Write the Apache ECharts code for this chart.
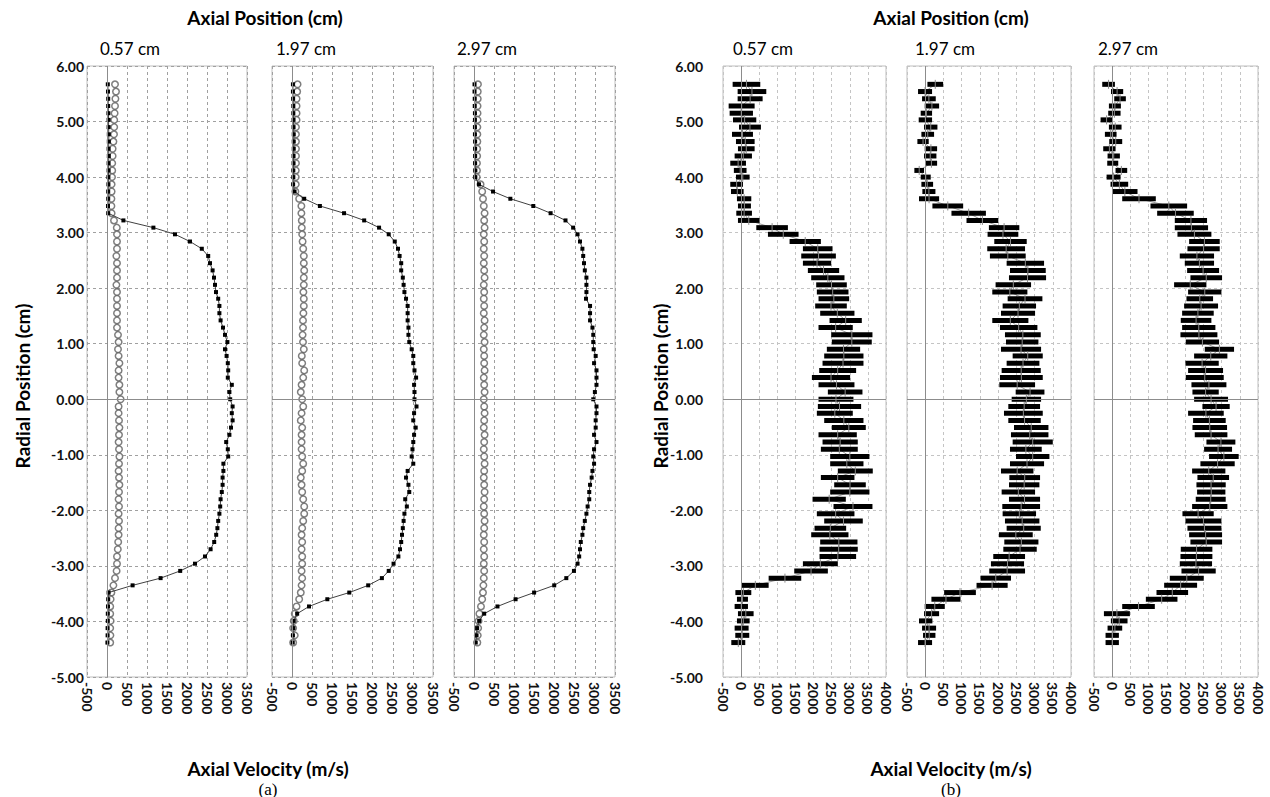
<!DOCTYPE html>
<html>
<head>
<meta charset="utf-8">
<script src="https://cdn.jsdelivr.net/npm/echarts@6/dist/echarts.min.js"></script>
<style>
html,body{margin:0;padding:0;background:#fff;}
#chart{width:1270px;height:797px;}
</style>
</head>
<body>
<div id="chart"></div>
<script>
// ---------------- DATA ----------------
const radialPositions = [5.67,5.54,5.41,5.28,5.15,5.03,4.90,4.77,4.64,4.51,4.38,4.25,4.12,4.00,3.87,3.74,3.61,3.48,3.35,3.22,3.09,2.97,2.84,2.71,2.58,2.45,2.32,2.19,2.06,1.93,1.81,1.68,1.55,1.42,1.29,1.16,1.03,0.90,0.78,0.65,0.52,0.39,0.26,0.13,0.00,-0.13,-0.25,-0.38,-0.51,-0.64,-0.77,-0.90,-1.03,-1.16,-1.29,-1.41,-1.54,-1.67,-1.80,-1.93,-2.06,-2.19,-2.32,-2.44,-2.57,-2.70,-2.83,-2.96,-3.09,-3.22,-3.35,-3.48,-3.60,-3.73,-3.86,-3.99,-4.12,-4.25,-4.38];

const axialLabels = ["0.57 cm","1.97 cm","2.97 cm"];
const velTicksA = [-500,0,500,1000,1500,2000,2500,3000,3500];
const velTicksB = [-500,0,500,1000,1500,2000,2500,3000,3500,4000];
const radialTicks = [-5,-4,-3,-2,-1,0,1,2,3,4,5,6];

// (a) mean axial velocity (black squares) and grey circles
const a1Velocity = [20,25,30,30,35,40,40,45,45,40,45,40,40,35,35,30,30,25,30,
  410,1160,1700,2075,2370,2530,2575,2640,2675,2700,2725,2780,2810,2810,2840,2900,2950,3010,2950,2990,
  3020,3030,3020,3120,3060,3080,3140,3120,3140,3100,3060,2980,3020,3030,2910,2910,2890,2890,2870,2840,
  2830,2810,2780,2760,2730,2680,2590,2450,2200,1830,1340,640,40,30,25,20,20,15,15,10];
const a1Circles = [200,225,210,200,190,180,180,175,160,140,140,130,130,125,115,115,110,110,115,
  175,245,250,250,250,235,250,250,250,235,250,250,250,250,250,250,275,290,275,290,
  310,290,290,310,310,340,290,290,300,310,300,290,300,310,300,290,300,310,300,290,
  300,290,300,290,290,280,270,250,250,240,200,160,110,90,80,80,90,80,85,80];

const a2Velocity = [20,20,25,30,30,35,35,40,40,40,35,35,30,30,25,60,
  300,690,1290,1790,2160,2400,2550,2630,2670,2710,2710,2750,2770,2790,2830,2870,2870,2870,2890,2890,2910,2970,3010,
  3010,3040,3080,3030,3040,3040,3090,3030,3010,3070,3030,3010,2990,2970,3010,2870,2830,2890,2910,2810,
  2850,2790,2770,2750,2730,2710,2680,2640,2520,2400,2230,1890,1420,875,420,125,40,30,20,15];
const a2Circles = [135,125,110,110,110,110,95,95,95,95,95,95,90,90,90,80,
  175,230,230,240,240,250,260,275,290,290,300,290,290,280,290,290,280,270,270,260,270,290,240,
  250,300,275,235,215,250,275,235,215,250,235,235,235,250,275,250,215,235,250,275,
  300,300,275,250,235,250,235,250,250,235,250,235,215,175,110,65,40,25,65,25];

const a3Velocity = [10,10,15,15,20,20,20,20,25,25,25,25,30,30,
  120,470,900,1470,1900,2270,2460,2570,2630,2690,2710,2730,2750,2790,2790,2790,2780,2880,2880,2880,2940,2960,2960,2970,3020,
  2980,3040,3040,3040,3000,2960,3040,3040,3020,3020,2980,3040,2980,2960,2980,2940,2920,2880,2860,2860,
  2820,2790,2750,2710,2690,2650,2630,2610,2570,2480,2290,1990,1490,1030,580,250,125,75,60,40];
const a3Circles = [95,90,90,85,85,85,80,80,80,75,75,70,70,65,
  160,200,220,240,260,250,260,240,250,240,250,240,250,260,240,250,240,250,240,260,250,240,260,240,250,
  250,260,240,250,260,240,250,260,250,240,260,250,240,250,260,250,240,250,260,250,
  240,250,260,250,240,250,240,250,240,250,240,230,220,200,170,130,110,100,90,80];

// (b) horizontal ranges (low / high) of axial velocity
const b1Low = [-234,-96,-96,-344,-317,-225,-59,-252,-142,-87,-179,-299,-200,-142,-299,-280,-115,-87,-133,-87,
  419,741,1338,1706,1660,1706,1843,1935,2073,2091,2137,2045,2183,2441,2137,2487,2505,2367,2294,
  2248,2156,1954,2137,2395,2137,2119,2091,2294,2505,2137,2248,2202,2459,2459,2670,2202,2570,2459,1972,
  2551,2091,2294,2027,1935,2183,2165,2165,1706,1467,760,25,-158,-115,-179,-87,-115,-179,-161,-271];
const b1High = [529,695,594,373,327,419,547,327,373,373,299,134,150,235,51,69,281,271,299,510,
  1292,1586,2202,2524,2616,2487,2707,2854,2918,2964,2983,2918,3129,3332,3083,3626,3607,3286,3378,
  3378,3175,3010,3129,3350,3101,3313,3083,3378,3442,3194,3221,3221,3543,3378,3635,3129,3442,3543,2891,
  3626,3129,3359,2900,2964,3212,3221,3175,2670,2395,1660,760,281,189,189,345,235,207,225,115];

const b2Low = [60,-197,-87,-14,-124,-179,-32,-105,-215,-14,-32,14,-298,-124,-105,-78,-170,197,720,1133,
  1747,1711,1895,1702,1775,2234,2326,2298,1931,1840,2262,2124,2079,1840,2051,2188,2216,2079,2399,
  2234,2097,2051,2033,2482,2372,2280,2161,2280,2436,2353,2399,2326,2491,2326,2079,2308,2298,2097,2298,
  2115,2124,2188,2234,2023,2170,2143,1867,1803,1757,1518,1408,519,170,-14,-32,-170,-87,-60,-197];
const b2High = [491,188,289,381,188,188,335,243,96,326,307,326,-32,151,216,280,381,1041,1665,2005,
  2582,2555,2785,2739,2757,3261,3307,3316,2904,2803,3215,3041,3014,2831,3078,3170,3106,3179,3225,
  3133,3170,3225,3014,3271,3179,3151,3225,3170,3381,3381,3500,3197,3408,3261,2969,3151,3133,3014,3151,
  3151,3041,3133,3170,2950,3106,3060,2739,2712,2739,2353,2262,1390,968,537,381,197,298,280,188];

const b3Low = [-274,-33,55,-91,-110,-319,-91,-201,-82,-247,-128,-137,91,-155,-46,0,274,1050,1233,1717,
  1717,1790,2110,2064,1854,1991,2055,2146,1698,2082,2037,1973,1918,1881,1918,1872,2018,2539,2247,
  2009,2082,2018,2174,2201,2247,2475,2082,2219,2201,2265,2585,2521,2657,2420,2192,2338,2311,2329,2292,
  2192,1927,2009,2064,2110,2146,1881,1872,1854,1900,1580,1425,1215,923,274,-228,-37,-128,-183,-183];
const b3High = [74,301,374,238,229,10,256,119,274,92,210,165,411,229,438,694,1196,2055,2237,2602,
  2630,2721,2950,2950,2794,2794,2932,3014,2584,2996,2767,2904,2785,2721,2831,2886,2932,3343,3160,
  2923,3041,3060,3133,2923,3178,3224,3060,3114,3151,3160,3379,3288,3470,3361,3105,3206,3114,3105,3114,
  3160,2785,2996,2996,3014,3014,2748,2748,2739,2840,2511,2329,2082,1790,1169,485,420,274,183,183];

// ---------------- CHART ----------------
const FONT = 'Lato, "Open Sans", sans-serif';
const chart = echarts.init(document.getElementById('chart'), null, {renderer:'svg'});

const gridBoxes = [
  {left:87,  width:160},
  {left:272, width:161},
  {left:454, width:161},
  {left:723, width:163},
  {left:907, width:164},
  {left:1094,width:164}
];
const grids = gridBoxes.map(g => ({
  left:g.left, width:g.width, top:66, height:611,
  show:true, borderColor:'#bfbfbf', borderWidth:1, backgroundColor:'rgba(0,0,0,0)'
}));

const xAxes = gridBoxes.map((g,i) => {
  const ticks = i < 3 ? velTicksA : velTicksB;
  return {
    type:'value', gridIndex:i,
    min:ticks[0], max:ticks[ticks.length-1], interval:500,
    axisLine:{show:false}, axisTick:{show:false},
    axisLabel:{rotate:-90, fontSize:14, fontWeight:'bold', color:'#111', fontFamily:FONT, margin:5,
      showMinLabel:true, showMaxLabel:true, formatter:v => String(v)},
    splitLine:{show:true, lineStyle:{type:[3,3], color: i<3 ? '#a0a0a0' : '#c4c4c4', width:1}}
  };
});
const yAxes = gridBoxes.map((g,i) => ({
  type:'value', gridIndex:i,
  min:radialTicks[0], max:radialTicks[radialTicks.length-1], interval:1,
  axisLine:{show:false}, axisTick:{show:false},
  axisLabel:{show:(i===0||i===3), formatter:v => v.toFixed(2), fontSize:14, fontWeight:'bold',
    color:'#111', fontFamily:FONT, margin:(i===0?3:20)},
  splitLine:{show:true, lineStyle:{type:[3,3], color: i<3 ? '#a0a0a0' : '#c4c4c4', width:1}}
}));

function zip(xs){ return xs.map((x,k) => [x, radialPositions[k]]); }
const zeroLines = {
  silent:true, symbol:['none','none'], label:{show:false},
  lineStyle:{color:'#8c8c8c', type:'solid', width:1},
  data:[{xAxis:0},{yAxis:0}], animation:false
};

const series = [];
const aVel = [a1Velocity, a2Velocity, a3Velocity];
const aCirc = [a1Circles, a2Circles, a3Circles];
for (let i=0;i<3;i++){
  series.push({
    type:'scatter', xAxisIndex:i, yAxisIndex:i, data:zip(aCirc[i]),
    symbol:'circle', symbolSize:6.5, z:2,
    itemStyle:{color:'#ffffff', borderColor:'#5e5e5e', borderWidth:1.5},
    markLine:zeroLines
  });
  series.push({
    type:'line', xAxisIndex:i, yAxisIndex:i, data:zip(aVel[i]),
    symbol:'rect', symbolSize:[4,4], showSymbol:true, z:3,
    itemStyle:{color:'#000'}, lineStyle:{color:'#404040', width:1}
  });
}

const bLow = [b1Low, b2Low, b3Low];
const bHigh = [b1High, b2High, b3High];
for (let j=0;j<3;j++){
  const i = j+3;
  const rows = bLow[j].map((lo,k) => [lo, bHigh[j][k], radialPositions[k]]);
  const centers = rows.map(r => [(r[0]+r[1])/2, r[2]]);
  series.push({
    type:'line', xAxisIndex:i, yAxisIndex:i, data:centers,
    symbol:'none', lineStyle:{color:'#9a9a9a', width:1}, z:2,
    markLine:zeroLines
  });
  series.push({
    type:'custom', xAxisIndex:i, yAxisIndex:i, data:rows, z:3,
    encode:{x:[0,1], y:2},
    renderItem:function(params, api){
      const lo = api.value(0), hi = api.value(1), r = api.value(2);
      const p1 = api.coord([lo, r]);
      const p2 = api.coord([hi, r]);
      const c = api.coord([(lo+hi)/2, r]);
      return {type:'group', children:[
        {type:'rect', shape:{x:p1[0], y:p1[1]-2.5, width:p2[0]-p1[0], height:5}, style:{fill:'#000'}},
        {type:'line', shape:{x1:c[0], y1:c[1]-4.5, x2:c[0], y2:c[1]+4.5}, style:{stroke:'#8a8a8a', lineWidth:1}}
      ]};
    }
  });
}

function txt(x, y, text, opts){
  return Object.assign({type:'text', x:x, y:y, silent:true,
    style:Object.assign({text:text, fill:'#000', fontFamily:FONT, fontSize:19,
      align:'center', verticalAlign:'middle'}, opts && opts.style || {})},
    opts && opts.el || {});
}
const graphics = [
  txt(265, 17, 'Axial Position (cm)', {style:{fontWeight:'bold'}}),
  txt(951, 17, 'Axial Position (cm)', {style:{fontWeight:'bold'}}),
  txt(268, 768, 'Axial Velocity (m/s)', {style:{fontWeight:'bold'}}),
  txt(951, 768, 'Axial Velocity (m/s)', {style:{fontWeight:'bold'}}),
  txt(22, 386, 'Radial Position (cm)', {style:{fontWeight:'bold'}, el:{rotation:Math.PI/2}}),
  txt(660, 386, 'Radial Position (cm)', {style:{fontWeight:'bold'}, el:{rotation:Math.PI/2}}),
  txt(268, 789, '(a)', {style:{fontFamily:'"Liberation Serif", serif', fontSize:17}}),
  txt(951, 789, '(b)', {style:{fontFamily:'"Liberation Serif", serif', fontSize:17}})
];
const subTitleX = [100, 276, 457, 733, 915, 1098];
subTitleX.forEach((x,i) => {
  graphics.push(txt(x, 48, axialLabels[i%3], {style:{align:'left', fontSize:17}}));
});

chart.setOption({
  animation:false,
  backgroundColor:'#ffffff',
  grid:grids, xAxis:xAxes, yAxis:yAxes,
  series:series,
  graphic:graphics
});
</script>
</body>
</html>
